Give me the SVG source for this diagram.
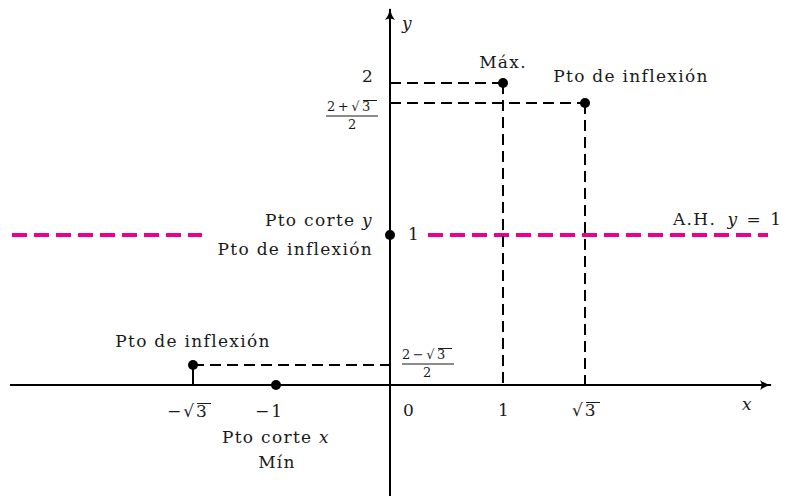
<svg xmlns="http://www.w3.org/2000/svg" width="786" height="496" viewBox="0 0 786 496">
<style>
text{font-family:"DejaVu Serif","Liberation Serif",serif;font-size:17px;fill:#1a1a1a;letter-spacing:1.3px}
.it{font-style:italic}
.m{letter-spacing:2px}
.sm{font-size:13px;letter-spacing:2.5px}
.bar{stroke:#1a1a1a;stroke-width:1}
.axis{stroke:#000;stroke-width:2;fill:none}
.dash{stroke:#000;stroke-width:2;stroke-dasharray:11 6;fill:none}
.ah{stroke:#ec008c;stroke-width:4;stroke-dasharray:15 7;fill:none}
.pt{fill:#000}
</style>
<defs>
<marker id="arr" viewBox="0 0 12 10" refX="11" refY="5" markerWidth="12" markerHeight="10" markerUnits="userSpaceOnUse" orient="auto">
<path d="M0,0 Q5,4 12,5 Q5,6 0,10 Q3,5 0,0 Z" fill="#000"/>
</marker>
</defs>
<rect width="786" height="496" fill="#fff"/>
<g id="connectors">
<line class="ah" x1="12" y1="235" x2="202" y2="235"/>
<line class="ah" x1="428" y1="235" x2="768" y2="235"/>
<line class="dash" x1="390" y1="83" x2="503" y2="83"/>
<line class="dash" x1="390" y1="103" x2="585" y2="103"/>
<line class="dash" x1="503" y1="83" x2="503" y2="385"/>
<line class="dash" x1="585" y1="103" x2="585" y2="385"/>
<line class="dash" x1="193" y1="365" x2="390" y2="365"/>
<line class="axis" x1="193" y1="365" x2="193" y2="385"/>
<line class="axis" x1="10" y1="385" x2="771" y2="385" marker-end="url(#arr)"/>
<line class="axis" x1="390" y1="496" x2="390" y2="9" marker-end="url(#arr)"/>
</g>
<g id="axis-labels">
<text class="it" x="402" y="29">y</text>
<text class="it" x="742" y="410">x</text>
<text x="403" y="416">0</text>
</g>
<g id="ticks">
<text x="362" y="82">2</text>
<g id="frac-top">
<text class="sm" x="327" y="111">2+√3</text>
<line class="bar" x1="363" y1="100.5" x2="377" y2="100.5"/>
<line class="bar" x1="326" y1="116" x2="378" y2="116"/>
<text class="sm" x="348" y="129">2</text>
</g>
<text x="408" y="240">1</text>
<g id="frac-bottom">
<text class="sm" x="402" y="359">2−√3</text>
<line class="bar" x1="438" y1="348.5" x2="452" y2="348.5"/>
<line class="bar" x1="402" y1="364" x2="454" y2="364"/>
<text class="sm" x="423" y="377">2</text>
</g>
<g id="tick-msqrt3">
<text class="m" x="167" y="417">−√3</text>
<line class="bar" x1="197" y1="403.5" x2="211" y2="403.5"/>
</g>
<text class="m" x="255" y="417">−1</text>
<text x="498" y="416">1</text>
<g id="tick-sqrt3">
<text class="m" x="572" y="416">√3</text>
<line class="bar" x1="586" y1="402.5" x2="600" y2="402.5"/>
</g>
</g>
<g id="node-max">
<circle class="pt" cx="503" cy="83" r="5"/>
<text x="503" y="68" text-anchor="middle">Máx.</text>
</g>
<g id="node-inflex-right">
<circle class="pt" cx="585" cy="103" r="5"/>
<text x="631" y="82" text-anchor="middle">Pto de inflexión</text>
</g>
<g id="node-corte-y">
<circle class="pt" cx="390" cy="235" r="5"/>
<text x="373" y="226" text-anchor="end">Pto corte <tspan class="it">y</tspan></text>
<text x="373" y="255" text-anchor="end">Pto de inflexión</text>
</g>
<g id="node-inflex-left">
<circle class="pt" cx="193" cy="365" r="5"/>
<text x="193" y="347" text-anchor="middle">Pto de inflexión</text>
</g>
<g id="node-min">
<circle class="pt" cx="276" cy="385" r="5"/>
<text x="276" y="443" text-anchor="middle">Pto corte <tspan class="it">x</tspan></text>
<text x="277" y="468" text-anchor="middle">Mín</text>
</g>
<g id="asymptote-label">
<text x="673" y="225">A.H.</text>
<text x="783" y="225" text-anchor="end" class="m"><tspan class="it">y</tspan> = 1</text>
</g>
</svg>
